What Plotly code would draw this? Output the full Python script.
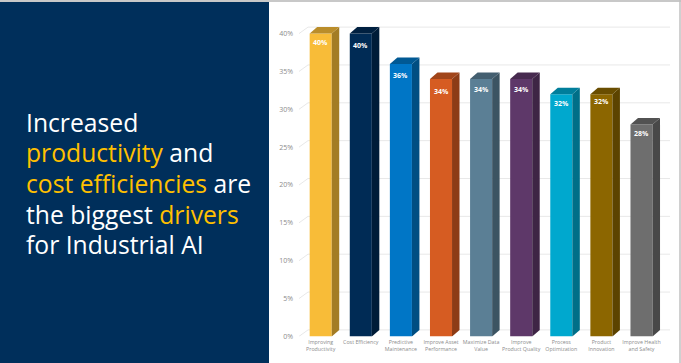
import plotly.graph_objects as go

W, H = 681, 363
categories = ["Improving<br>Productivity", "Cost Efficiency", "Predictive<br>Maintenance",
              "Improve Asset<br>Performance", "Maximize Data<br>Value", "Improve<br>Product Quality",
              "Process<br>Optimization", "Product<br>Innovation", "Improve Health<br>and Safety"]
values = [40, 40, 36, 34, 34, 34, 32, 32, 28]
front_colors = ["#F8BC38", "#002B55", "#0076C6", "#D65C22", "#5B7F95", "#5E3869", "#00A8CE", "#8C6600", "#6E6E6E"]
side_colors = ["#A37C24", "#001C38", "#004E82", "#8D3C16", "#3C5462", "#3E2545", "#006F88", "#5C4300", "#484848"]
top_colors = ["#BA8D2A", "#002040", "#005994", "#A1451A", "#445F70", "#472A4F", "#007E9B", "#694D00", "#525252"]
ticks = [0, 5, 10, 15, 20, 25, 30, 35, 40]
label_drop = [9, 12, 12, 12, 10, 10, 9, 7, 9]

# pixel geometry of the oblique projection
x0_px, step_px = 320.7, 40.1
y0_px, unit_px = 336.4, 7.57
left_px, bottom_px = 299, H - y0_px
bar_w = 0.55
dx = 7.5 / step_px
dy = 6.5 / unit_px

x_range = [(left_px - x0_px) / step_px, (W - x0_px) / step_px]
y_range = [0, y0_px / unit_px]
idx = list(range(len(values)))

fig = go.Figure()
fig.add_trace(go.Bar(x=idx, y=values, width=bar_w, marker=dict(color=front_colors, line=dict(width=0)),
                     showlegend=False, hoverinfo="skip"))
for i, v in enumerate(values):
    r = i + bar_w / 2
    l = i - bar_w / 2
    fig.add_trace(go.Scatter(x=[r, r + dx, r + dx, r, r], y=[0, dy, v + dy, v, 0], mode="lines", fill="toself",
                             fillcolor=side_colors[i], line=dict(width=0), showlegend=False, hoverinfo="skip"))
    fig.add_trace(go.Scatter(x=[l, r, r + dx, l + dx, l], y=[v, v, v + dy, v + dy, v], mode="lines", fill="toself",
                             fillcolor=top_colors[i], line=dict(width=0), showlegend=False, hoverinfo="skip"))
    fig.add_annotation(x=i, y=v, text=f"<b>{v}%</b>", showarrow=False, yanchor="middle", yshift=-label_drop[i],
                       font=dict(family="Open Sans", size=7, color="white"))

# back-wall gridlines and oblique wall edges
wall_start = x_range[0] + 9 / step_px
wall_end = (670 - x0_px) / step_px
for t in ticks:
    fig.add_shape(type="line", xref="x", yref="y", x0=wall_start, x1=wall_end, y0=t + dy, y1=t + dy,
                  line=dict(color="#E8E8E8", width=1), layer="below")
    fig.add_shape(type="line", xref="x", yref="y", x0=x_range[0], x1=wall_start, y0=t, y1=t + dy,
                  line=dict(color="#E8E8E8", width=1), layer="below")

# navy panel, page edges
fig.add_shape(type="rect", xref="paper", yref="paper", x0=0, x1=269 / W, y0=0, y1=1 - 2 / H,
              fillcolor="#002F5B", line=dict(width=0), layer="below")
fig.add_shape(type="line", xref="paper", yref="paper", x0=0, x1=1, y0=1 - 1 / H, y1=1 - 1 / H,
              line=dict(color="#C8C8C8", width=2), layer="below")
fig.add_shape(type="line", xref="paper", yref="paper", x0=680 / W, x1=680 / W, y0=0, y1=1,
              line=dict(color="#C0C0C0", width=1.5), layer="below")

WHITE, GOLD = "#FFFFFF", "#FFC000"
lines = [[("Increased", WHITE)],
         [("productivity", GOLD), (" and", WHITE)],
         [("cost efficiencies", GOLD), (" are", WHITE)],
         [("the biggest ", WHITE), ("drivers", GOLD)],
         [("for Industrial AI", WHITE)]]
line_y = [122, 153, 183.5, 214.5, 244.5]
for parts, y in zip(lines, line_y):
    txt = "".join(f'<span style="color:{c}">{s}</span>' for s, c in parts)
    fig.add_annotation(xref="paper", yref="paper", x=24 / W, y=1 - y / H, xanchor="left", yanchor="middle",
                       text=txt, showarrow=False, font=dict(family="Open Sans", size=24.7, color=WHITE))

fig.update_layout(
    width=W, height=H, margin=dict(l=0, r=0, t=0, b=0), autosize=False,
    paper_bgcolor="white", plot_bgcolor="rgba(0,0,0,0)", showlegend=False,
    xaxis=dict(domain=[left_px / W, 1], range=x_range, tickmode="array", tickvals=idx, ticktext=categories,
               tickangle=0, showgrid=False, zeroline=False, showline=False, ticks="", ticklen=0,
               ticklabelstandoff=1,
               tickfont=dict(family="Open Sans", size=5.3, color="#8C8C8C"), automargin=False),
    yaxis=dict(domain=[bottom_px / H, 1], range=y_range, tickmode="array", tickvals=ticks,
               ticktext=[f"{t}%" for t in ticks], showgrid=False, zeroline=False, showline=False, ticks="",
               ticklabelstandoff=5,
               tickfont=dict(family="Open Sans", size=7, color="#8C8C8C"), automargin=False),
)
fig.write_html("out.html", config={"displayModeBar": False},
               post_script="document.body.style.margin='0';document.body.style.overflow='hidden';")
